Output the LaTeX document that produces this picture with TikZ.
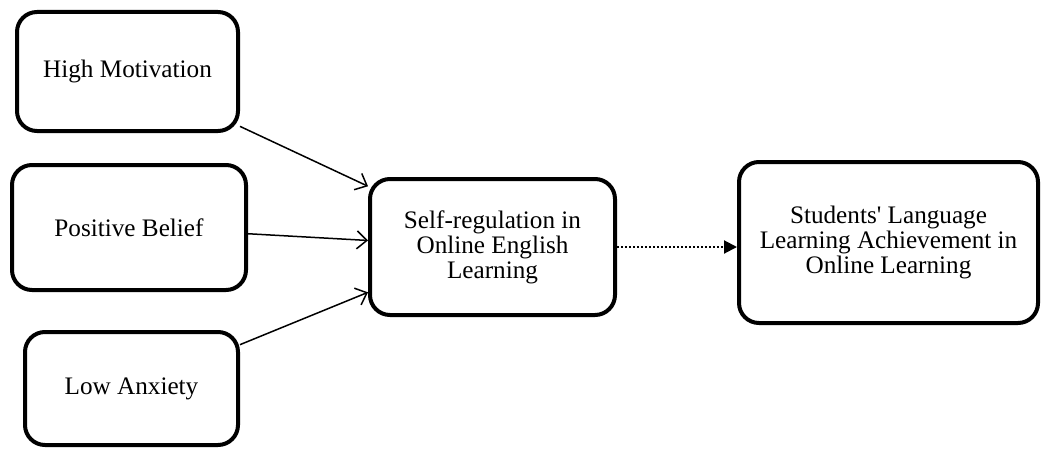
\documentclass[tikz,border=0pt]{standalone}
\usepackage{fontspec}
\setmainfont{Liberation Serif}
\usetikzlibrary{arrows.meta}

\begin{document}
\begin{tikzpicture}[x=0.5pt,y=-0.5pt,>={Straight Barb[length=5pt,width=9pt]}]
    \tikzstyle{every node}=[font=\fontsize{12.6}{12.5}\selectfont]
    \tikzstyle{box}=[draw,line width=2pt,rounded corners=10pt,align=center]
    \useasboundingbox (0,0) rectangle (1042,449);

    % high motivation
    \node[box,minimum width=110.5pt,minimum height=59.5pt] (motivation) at (127.5,71.5) {High Motivation};

    % positive belief
    \node[box,minimum width=117pt,minimum height=62.5pt] (belief) at (129,227.5) {Positive Belief};

    % low anxiety
    \node[box,minimum width=106.5pt,minimum height=56.5pt] (anxiety) at (131.5,388.5) {Low Anxiety};

    % self-regulation
    \node[box,minimum width=122.5pt,minimum height=68pt] (selfreg) at (492.5,247) {Self-regulation in\\Online English\\Learning};
    \draw[->,line width=0.75pt] (motivation.-26) -- (selfreg.154);
    \draw[->,line width=0.75pt] (belief.-3) -- (selfreg.177);
    \draw[->,line width=0.75pt] (anxiety.22) -- (selfreg.200);

    % achievement
    \node[box,minimum width=149.5pt,minimum height=80.5pt] (achieve) at (888.5,242.5) {Students\textquotesingle\ Language\\Learning Achievement in\\Online Learning};
    \draw[-{Triangle[length=6.5pt,width=6.5pt]},line width=1pt,dash pattern=on 1pt off 1pt] (selfreg.east) -- (selfreg.east -| achieve.west);

\end{tikzpicture}
\end{document}
